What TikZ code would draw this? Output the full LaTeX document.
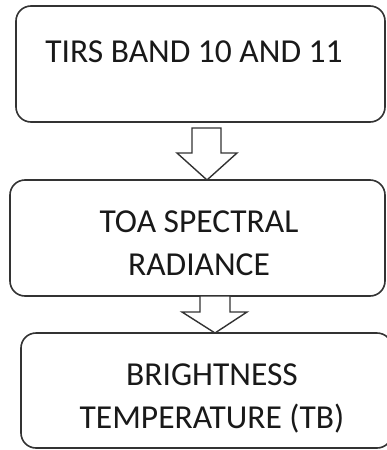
\documentclass[tikz,border=0pt]{standalone}
\usepackage{fontspec}
\setmainfont{Carlito}
\begin{document}
\begin{tikzpicture}[x=1pt,y=-1pt,
  boxstyle/.style={draw=black!80, line width=1.6pt, rounded corners=15pt, fill=white},
  txt/.style={font=\fontsize{33.5}{43}\selectfont, text=black!90, align=center, inner sep=0pt},
  blockarrow/.style={draw=black!80, line width=1.4pt, fill=white, line join=miter}]
\useasboundingbox (0,0) rectangle (387,450);
\clip (0,0) rectangle (387,450);
\draw[boxstyle] (16,6) rectangle (385,122);
\draw[boxstyle] (10,180) rectangle (385,296);
\draw[boxstyle] (21,333) rectangle (392,448);
\node[txt, anchor=base] (t1) at (194,62) {TIRS BAND 10 AND 11};
\node[txt, anchor=base] (t2) at (199,275) {TOA SPECTRAL\\RADIANCE};
\node[txt, anchor=base] (t3) at (212,428) {BRIGHTNESS\\TEMPERATURE (TB)};
\draw[blockarrow] (192,128) -- (221,128) -- (221,153) -- (237,153) -- (207,180) -- (177,153) -- (192,153) -- cycle;
\draw[blockarrow] (200,296) -- (230,296) -- (230,312) -- (247,312) -- (215,333) -- (182,312) -- (200,312) -- cycle;
\end{tikzpicture}
\end{document}
